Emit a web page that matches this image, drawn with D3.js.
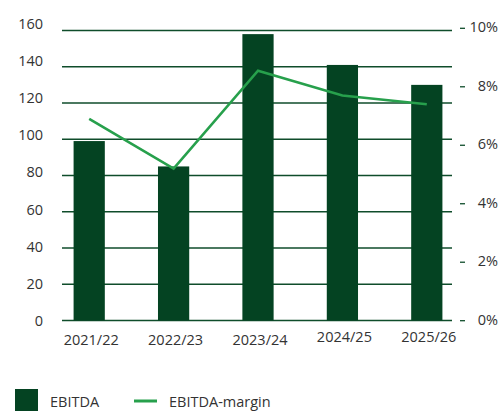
<!DOCTYPE html>
<html>
<head>
<meta charset="utf-8">
<script src="https://cdn.jsdelivr.net/npm/d3@7"></script>
<style>
  body { margin: 0; background: #fff; }
  text { font-family: "Open Sans", "Noto Sans", sans-serif; fill: #333; font-size: 14.5px; }
</style>
</head>
<body>
<div id="chart"></div>
<script>
// data
var years = ["2021/22", "2022/23", "2023/24", "2024/25", "2025/26"];
var ebitda = [99, 85, 158, 141, 130];
var margin = [6.9, 5.2, 8.55, 7.7, 7.4];
var leftTicks = [0, 20, 40, 60, 80, 100, 120, 140, 160];
var rightTicks = [0, 2, 4, 6, 8, 10];

var W = 500, H = 411;
var barColor = "#044322", lineColor = "#27a04c", gridColor = "#0f4d2b";

var svg = d3.select("#chart").append("svg")
    .attr("width", W)
    .attr("height", H);

var x = d3.scaleBand()
    .domain(years)
    .range([47, 469])
    .paddingInner(0.63)
    .paddingOuter(0.315);

var y = d3.scaleLinear().domain([0, 160]).range([320.5, 30.5]);
// tick labels on the left are spread a bit wider than the gridlines
var yLabel = d3.scaleLinear().domain([0, 160]).range([322, 25]);
var y2 = d3.scaleLinear().domain([0, 10]).range([320.7, 28.3]);

// gridlines
svg.append("g").selectAll("line")
    .data(leftTicks)
    .enter().append("line")
    .attr("x1", 62).attr("x2", 452)
    .attr("y1", function(d) { return y(d); })
    .attr("y2", function(d) { return y(d); })
    .attr("stroke", gridColor)
    .attr("stroke-width", 1.3);

// left axis labels
svg.append("g").selectAll("text")
    .data(leftTicks)
    .enter().append("text")
    .attr("x", 43)
    .attr("y", function(d) { return yLabel(d); })
    .attr("text-anchor", "end")
    .attr("dominant-baseline", "middle")
    .text(function(d) { return d; });

// right axis
var rAxis = svg.append("g");
rAxis.selectAll("line")
    .data(rightTicks)
    .enter().append("line")
    .attr("x1", 460).attr("x2", 465)
    .attr("y1", function(d) { return y2(d); })
    .attr("y2", function(d) { return y2(d); })
    .attr("stroke", gridColor)
    .attr("stroke-width", 1.3);
rAxis.selectAll("text")
    .data(rightTicks)
    .enter().append("text")
    .attr("x", 498)
    .attr("y", function(d) { return y2(d); })
    .attr("text-anchor", "end")
    .attr("dominant-baseline", "middle")
    .text(function(d) { return d + "%"; });

// bars
svg.append("g").selectAll("rect")
    .data(ebitda)
    .enter().append("rect")
    .attr("x", function(d, i) { return x(years[i]); })
    .attr("y", function(d) { return y(d); })
    .attr("width", x.bandwidth())
    .attr("height", function(d) { return y(0) - y(d); })
    .attr("fill", barColor);

// margin line
var line = d3.line()
    .x(function(d, i) { return x(years[i]) + x.bandwidth() / 2; })
    .y(function(d) { return y2(d); });

svg.append("path")
    .datum(margin)
    .attr("d", line)
    .attr("fill", "none")
    .attr("stroke", lineColor)
    .attr("stroke-width", 2.6);

// x labels
svg.append("g").selectAll("text")
    .data(years)
    .enter().append("text")
    .attr("x", function(d) { return x(d) + x.bandwidth() / 2 + 2; })
    .attr("y", function(d, i) { return i > 2 ? 338 : 341; })
    .attr("text-anchor", "middle")
    .attr("dominant-baseline", "middle")
    .text(function(d) { return d; });

// legend
var legend = svg.append("g");
legend.append("rect")
    .attr("x", 15).attr("y", 389)
    .attr("width", 23).attr("height", 22)
    .attr("fill", barColor);
legend.append("text")
    .attr("x", 50).attr("y", 403)
    .attr("dominant-baseline", "middle")
    .text("EBITDA");
legend.append("line")
    .attr("x1", 134).attr("x2", 157)
    .attr("y1", 401).attr("y2", 401)
    .attr("stroke", lineColor)
    .attr("stroke-width", 3);
legend.append("text")
    .attr("x", 169).attr("y", 403)
    .attr("dominant-baseline", "middle")
    .text("EBITDA-margin");
</script>
</body>
</html>
